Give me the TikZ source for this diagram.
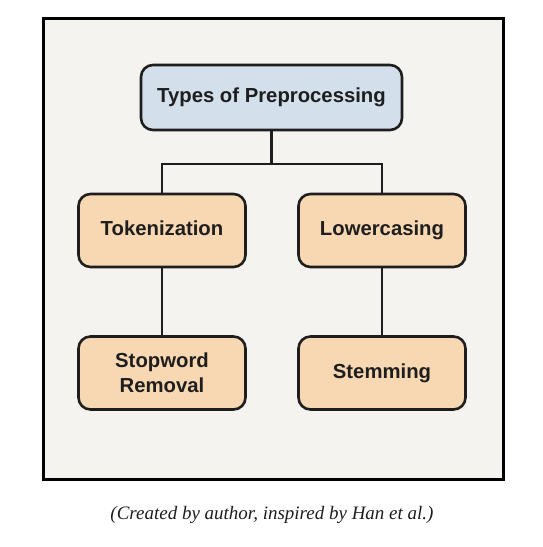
\documentclass[tikz,border=0pt]{standalone}
\usepackage{fontspec}
\setmainfont{Liberation Serif}
\newfontfamily\boxfont{Liberation Sans}
\definecolor{framebg}{HTML}{F4F3F0}
\definecolor{bluefill}{HTML}{D3DFEB}
\definecolor{orangefill}{HTML}{F8D8B3}
\definecolor{inkc}{HTML}{1E1E1E}
\begin{document}
\begin{tikzpicture}[x=1pt,y=-1pt,
  box/.style={draw=inkc, line width=2.6pt, rounded corners=12pt, align=center,
    font=\boxfont\bfseries\fontsize{20.3}{25}\selectfont, text=inkc, inner sep=0pt},
  oneline/.style={text height=14.5pt, text depth=4pt},
  topbox/.style={box, fill=bluefill, minimum width=261pt, minimum height=65pt},
  subbox/.style={box, fill=orangefill, minimum width=167pt, minimum height=73pt},
  conn/.style={draw=inkc, line width=2.6pt}]
\useasboundingbox (0,0) rectangle (543,547);
\fill[white] (0,0) rectangle (543,547);
\node[draw=black, line width=3pt, fill=framebg, minimum width=460pt, minimum height=461pt, inner sep=0pt] (frame) at (273,248.5) {};
\node[topbox, oneline] (top) at (271.5,97.5) {Types of Preprocessing};
\node[subbox, oneline] (tok) at (162,230.5) {Tokenization};
\node[subbox, oneline] (low) at (382,230.5) {Lowercasing};
\node[subbox] (stop) at (162,373) {Stopword\\Removal};
\node[subbox, oneline] (stem) at (382,373) {Stemming};
\coordinate (j) at (271.5,164);
\draw[conn] (top.south) -- (j);
\draw[conn] (tok.north) |- (j) -| (low.north);
\draw[conn] (tok.south) -- (stop.north);
\draw[conn] (low.south) -- (stem.north);
\node[font=\itshape\fontsize{19}{22}\selectfont, text=inkc] (cap) at (272,515) {(Created by author, inspired by Han et al.)};
\end{tikzpicture}
\end{document}
